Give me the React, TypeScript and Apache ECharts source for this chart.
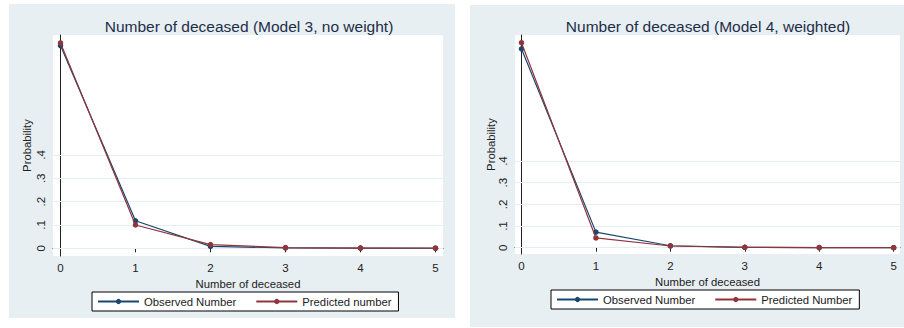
import React, { useEffect, useRef } from "react";
import * as echarts from "echarts";

const deceasedCounts = [0, 1, 2, 3, 4, 5];
const model3Observed = [0.869, 0.118, 0.008, 0.002, 0.001, 0.0005];
const model3Predicted = [0.88, 0.1, 0.016, 0.003, 0.001, 0.0002];
const model4Observed = [0.918, 0.072, 0.009, 0.002, 0.0005, 0.0002];
const model4Predicted = [0.946, 0.045, 0.008, 0.002, 0.0005, 0.0002];
const yTicks = [0, 0.1, 0.2, 0.3, 0.4];
const xTicks = [0, 1, 2, 3, 4, 5];
const titles = ["Number of deceased (Model 3, no weight)", "Number of deceased (Model 4, weighted)"];
const legendNames = [
  ["Observed Number", "Predicted number"],
  ["Observed Number", "Predicted Number"],
];

const BLUE = "#1a476f";
const RED = "#90353b";
const BG = "#e8eff2";
const GRIDLINE = "#e6eef1";
const FONT = "Liberation Sans, Arial, sans-serif";

const fmtTick = (v: number) => (v === 0 ? "0" : String(Math.round(v * 10) / 10).replace(/^0/, ""));

export default function App() {
  const ref = useRef<HTMLDivElement>(null);
  useEffect(() => {
    if (!ref.current) return;
    const chart = echarts.init(ref.current, undefined, { renderer: "svg" });

    const panels = [
      { grid: { left: 53, top: 35, width: 390, height: 221 }, xmin: -0.1, xmax: 5.1, ymin: -0.033, ymax: 0.914, nameGap: 21, titleX: 249, legend: { left: 92, top: 292 }, obs: model3Observed, pred: model3Predicted, xNameGap: 13 },
      { grid: { left: 515, top: 35, width: 385, height: 219 }, xmin: -0.087, xmax: 5.085, ymin: -0.029, ymax: 0.9815, nameGap: 15, titleX: 708, legend: { left: 551, top: 290 }, obs: model4Observed, pred: model4Predicted, xNameGap: 13 },
    ];

    const axisLine = { show: true, lineStyle: { color: "#222", width: 1 } };
    const axisTick = { show: true, length: 4, lineStyle: { color: "#222", width: 1 } };
    const labelStyle = { color: "#222", fontSize: 11.5, fontFamily: FONT };

    const series: any[] = [];
    panels.forEach((p, i) => {
      const names = legendNames[i];
      series.push({
        type: "line",
        name: names[0],
        xAxisIndex: i,
        yAxisIndex: i,
        data: deceasedCounts.map((x, k) => [x, p.obs[k]]),
        symbol: "circle",
        symbolSize: 5.5,
        lineStyle: { color: BLUE, width: 1.2 },
        itemStyle: { color: BLUE },
        z: 3,
        markLine: {
          silent: true,
          symbol: "none",
          z: 1,
          label: { show: false },
          lineStyle: { color: GRIDLINE, width: 1, type: "solid" },
          data: yTicks.map((v) => ({ yAxis: v })),
          emphasis: { disabled: true },
        },
      });
      series.push({
        type: "line",
        name: names[1],
        xAxisIndex: i,
        yAxisIndex: i,
        data: deceasedCounts.map((x, k) => [x, p.pred[k]]),
        symbol: "circle",
        symbolSize: 5.5,
        lineStyle: { color: RED, width: 1.2 },
        itemStyle: { color: RED },
        z: 4,
      });
    });

    const option: any = {
      animation: false,
      backgroundColor: "#ffffff",
      textStyle: { fontFamily: FONT },
      graphic: [
        { type: "rect", z: -10, silent: true, shape: { x: 9, y: 4, width: 446, height: 314 }, style: { fill: BG } },
        { type: "rect", z: -10, silent: true, shape: { x: 470, y: 5, width: 434, height: 322 }, style: { fill: BG } },
        ...panels.map((p, i) => ({
          type: "text",
          x: p.titleX,
          y: 26,
          silent: true,
          style: { text: titles[i], align: "center", verticalAlign: "middle", fontSize: 15.5, fontFamily: FONT, fill: "#1e2d48" },
        })),
      ],
      grid: panels.map((p) => ({ ...p.grid, show: true, backgroundColor: "#ffffff", borderWidth: 0, containLabel: false })),
      xAxis: panels.map((p, i) => ({
        type: "value",
        gridIndex: i,
        min: p.xmin,
        max: p.xmax,
        name: "Number of deceased",
        nameLocation: "middle",
        nameGap: p.xNameGap,
        nameTextStyle: { color: "#222", fontSize: 11.3, fontFamily: FONT },
        axisLine,
        axisTick: { ...axisTick, customValues: xTicks },
        axisLabel: { ...labelStyle, margin: 6, customValues: xTicks, formatter: (v: number) => String(v) },
        splitLine: { show: false },
      })),
      yAxis: panels.map((p, i) => ({
        type: "value",
        gridIndex: i,
        min: p.ymin,
        max: p.ymax,
        name: "Probability",
        nameLocation: "middle",
        nameGap: p.nameGap,
        nameTextStyle: { color: "#222", fontSize: 11.3, fontFamily: FONT },
        axisLine,
        axisTick: { ...axisTick, customValues: yTicks },
        axisLabel: { ...labelStyle, rotate: 90, margin: 6, customValues: yTicks, formatter: fmtTick },
        splitLine: { show: false },
      })),
      legend: panels.map((p, i) => ({
        left: p.legend.left,
        top: p.legend.top,
        orient: "horizontal",
        data: legendNames[i].map((n, k) => ({ name: n, itemStyle: { color: k === 0 ? BLUE : RED } })),
        itemWidth: 41,
        itemHeight: 6.5,
        itemGap: 19,
        padding: [4, 7, 4, 5],
        backgroundColor: "#ffffff",
        borderColor: "#000000",
        borderWidth: 1,
        borderRadius: 0,
        selectedMode: false,
        textStyle: { color: "#222", fontSize: 11.3, fontFamily: FONT },
      })),
      series,
    };
    chart.setOption(option);
    return () => chart.dispose();
  }, []);
  return <div ref={ref} style={{ position: "fixed", left: 0, top: 0, width: 904, height: 328 }} />;
}
